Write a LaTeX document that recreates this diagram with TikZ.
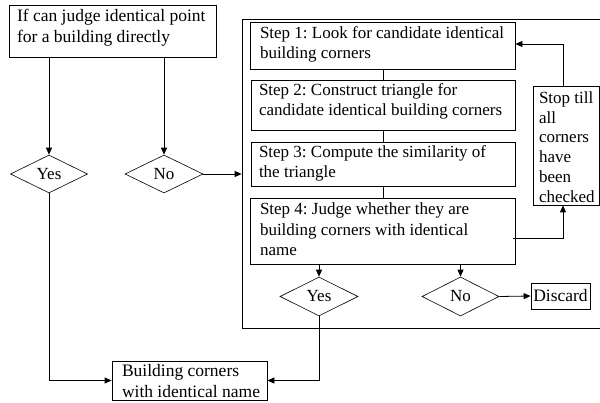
\documentclass[tikz,border=0pt]{standalone}
\usepackage{fontspec}
\setmainfont{Liberation Serif}
\usetikzlibrary{shapes.geometric,arrows.meta,calc}
\begin{document}
\frenchspacing
\begin{tikzpicture}[x=1pt,y=-1pt,
  line width=0.8pt,
  every node/.style={font=\fontsize{17}{20}\selectfont},
  box/.style={draw, rectangle, inner sep=0pt},
  lbl/.style={inner sep=0pt, align=left, anchor=north west},
  dia/.style={draw, diamond, inner sep=0pt, line width=0.6pt},
  arr/.style={-{Triangle[length=7pt,width=6pt]}},
  ln/.style={line width=0.8pt}]
\useasboundingbox (0,0) rectangle (600,403);
\begin{scope}
\clip (0,0) rectangle (600,403);
\node[box, minimum width=378pt, minimum height=309pt] (cont) at (431,173.5) {};
\end{scope}
\node[box, minimum width=207pt, minimum height=52pt] (q) at (112.5,31) {};
\node[lbl, font=\fontsize{17.5}{21}\selectfont] (qt) at ($(q.north west)+(8,4.5)$) {If can judge identical point\\for a building directly};
\node[dia, minimum width=77pt, minimum height=38pt] (yes1) at (49,174) {Yes};
\node[dia, minimum width=78pt, minimum height=38pt] (no1) at (164,174) {No};
\node[box, minimum width=265pt, minimum height=47pt] (s1) at (382.5,45.5) {};
\node[lbl] (s1t) at ($(s1.north west)+(10,4.5)$) {Step 1: Look for candidate identical\\building corners};
\node[box, minimum width=264pt, minimum height=50pt] (s2) at (383,105) {};
\node[lbl] (s2t) at ($(s2.north west)+(8,3.5)$) {Step 2: Construct triangle for\\candidate identical building corners};
\node[box, minimum width=264pt, minimum height=44pt] (s3) at (383,164) {};
\node[lbl] (s3t) at ($(s3.north west)+(8,3.5)$) {Step 3: Compute the similarity of\\the triangle};
\node[box, minimum width=265pt, minimum height=66pt] (s4) at (382.5,231) {};
\node[lbl, font=\fontsize{17}{20.5}\selectfont] (s4t) at ($(s4.north west)+(10,5)$) {Step 4: Judge whether they are\\building corners with identical\\name};
\node[box, minimum width=66pt, minimum height=119pt] (stop) at (566,145.5) {};
\node[lbl, font=\fontsize{17}{19.8}\selectfont] (stopt) at ($(stop.north west)+(6,5.5)$) {Stop till\\all\\corners\\have\\been\\checked};
\node[dia, minimum width=78pt, minimum height=39pt] (yes2) at (319,296.5) {Yes};
\node[dia, minimum width=77pt, minimum height=39pt] (no2) at (460.5,296.5) {No};
\node[box, minimum width=59pt, minimum height=26pt, font=\fontsize{17.5}{21}\selectfont] (disc) at (560.5,296) {Discard};
\node[box, minimum width=155pt, minimum height=39pt] (fin) at (189.5,380.5) {};
\node[lbl, font=\fontsize{17.5}{21}\selectfont] (fint) at ($(fin.north west)+(10,3.5)$) {Building corners\\with identical name};
% connectors
\draw[arr] (yes1 |- q.south) -- (yes1.north);
\draw[arr] (no1 |- q.south) -- (no1.north);
\draw[arr] (no1.east) -- (no1.east -| cont.west);
\draw[ln] (s1.south -| s3.center) -- (s2.north -| s3.center);
\draw[ln] (s2.south -| s3.center) -- (s3.north);
\draw[ln] (s3.south) -- (s4.north -| s3.center);
\draw[arr] (yes2 |- s4.south) -- (yes2.north);
\draw[arr] (no2 |- s4.south) -- (no2.north);
\draw[arr] (no2.east) -- (disc.west);
\coordinate (s4out) at ($(s4.east)+(-2,7)$);
\draw[arr] (s4out) -| ($(stop.south)+(-3,0)$);
\draw[arr] ($(stop.north)+(-3,0)$) |- ($(s1.east)+(0,-1.5)$);
\draw[arr] (yes1.south) |- (fin.west);
\draw[arr] (yes2.south) |- (fin.east);
\end{tikzpicture}
\end{document}
